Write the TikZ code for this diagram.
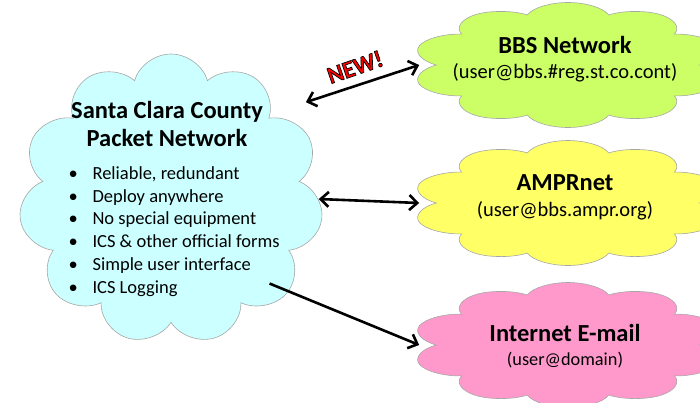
\documentclass[tikz,border=0pt]{standalone}
\usepackage{fontspec}
\setmainfont{Carlito}
\usetikzlibrary{shapes.symbols,arrows.meta,positioning,calc}
\definecolor{sccblue}{HTML}{CCFFFF}
\definecolor{bbsgreen}{HTML}{CCFF66}
\definecolor{ampryellow}{HTML}{FFFF66}
\definecolor{mailpink}{HTML}{FF99CC}
\definecolor{puffgray}{HTML}{A6A6A6}
\newcommand{\netpoint}[1]{\makebox[24pt][l]{\textbullet}#1}
\makeatletter
\newcommand{\outlined}[1]{\pgfsys@invoke{q 2 Tr 0 0 0 RG 0.7 w}#1\pgfsys@invoke{Q}}
\makeatother
\begin{document}
\begin{tikzpicture}[x=1pt,y=-1pt,
  netcloud/.style={cloud, cloud puffs=11, draw=puffgray, line width=0.6pt, inner sep=0pt, transform shape},
  farcloud/.style={netcloud, cloud puffs=10, minimum size=125pt},
  oneway/.style={line width=2.6pt, -{Straight Barb[length=8pt,width=15pt,line width=2.6pt]}},
  twoway/.style={line width=2.6pt, {Straight Barb[length=8pt,width=15pt,line width=2.6pt]}-{Straight Barb[length=8pt,width=15pt,line width=2.6pt]}},
  headfont/.style={font=\bfseries\fontsize{24.5}{28}\selectfont},
  addrfont/.style={font=\fontsize{20.5}{24}\selectfont}]
\clip (0,0) rectangle (700,402);
% home network
\begin{scope}[shift={(171,199)}, xscale=1.05]
\node[netcloud, fill=sccblue, minimum size=290pt] (scc) at (0,0) {};
\end{scope}
\node[headfont, align=center] (scctitle) at (167,124) {Santa Clara County\\Packet Network};
\node[font=\fontsize{18.5}{22.8}\selectfont, align=left, anchor=north west] (sccpoints) at (65,163)
  {\netpoint{Reliable, redundant}\\ \netpoint{Deploy anywhere}\\ \netpoint{No special equipment}\\
   \netpoint{ICS \& other official forms}\\ \netpoint{Simple user interface}\\ \netpoint{ICS Logging}};
% outside networks
\begin{scope}[shift={(568,65)}, xscale=2.5]
\node[farcloud, fill=bbsgreen] (bbs) at (0,0) {};
\end{scope}
\node[headfont] (bbstitle) at (565,45) {BBS Network};
\node[addrfont] (bbsaddr) at (565,73) {(user@bbs.\#reg.st.co.cont)};
\begin{scope}[shift={(568,203)}, xscale=2.5]
\node[farcloud, fill=ampryellow] (ampr) at (0,0) {};
\end{scope}
\node[headfont] (amprtitle) at (565,183) {AMPRnet};
\node[addrfont] (amppraddr) at (565,211) {(user@bbs.ampr.org)};
\begin{scope}[shift={(568,345)}, xscale=2.5]
\node[farcloud, fill=mailpink] (mail) at (0,0) {};
\end{scope}
\node[headfont] (mailtitle) at (565,333) {Internet E-mail};
\node[font=\fontsize{18.3}{22}\selectfont] (mailaddr) at (565,360) {(user@domain)};
% links
\draw[twoway] ($(scc.center)!1.2!(scc.37)$) -- ($(bbs.180)+(-16,0)$);
\draw[twoway] (scc.east) -- ($(ampr.180)+(-16,0)$);
\draw[oneway] ($(scc.center)!0.87!(scc.-42)$) -- ($(mail.180)+(-16,0)$);
\node[rotate=19, font=\bfseries\fontsize{24}{26}\selectfont, text=red] (newtag) at (355,67) {\outlined{NEW!}};
\end{tikzpicture}
\end{document}
